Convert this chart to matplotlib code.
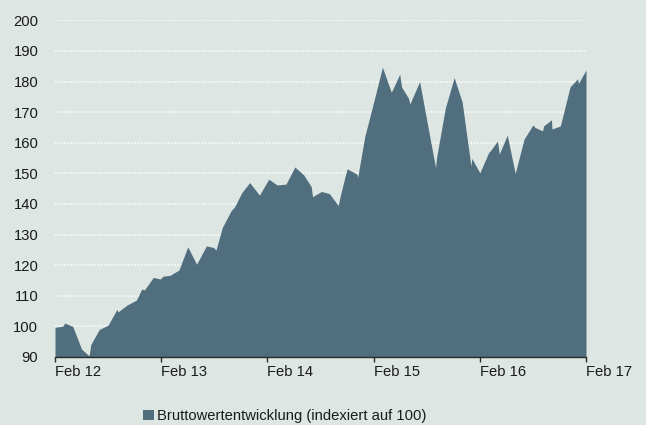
import matplotlib
matplotlib.use("Agg")
import matplotlib.pyplot as plt
from matplotlib import font_manager

# -------------------------------------------------------
# Data (months since Feb 2012, index values)
# -------------------------------------------------------
months = [0, 0.9, 1.1, 2.0, 3.0, 3.85, 4.05, 5.0, 6.0, 7.0, 7.1, 8.1, 9.2, 9.8,
          10.1, 11.1, 11.9, 12.2, 13.0, 14.0, 15.0, 16.0, 17.1, 17.9, 18.2,
          18.9, 19.9, 20.3, 21.1, 22.0, 23.1, 24.15, 25.1, 26.1, 27.1, 28.1,
          28.95, 29.1, 30.1, 31.0, 32.0, 32.25, 33.0, 34.1, 34.2, 35.0, 36.2,
          37.0, 38.0, 38.95, 39.15, 39.95, 40.1, 41.2, 42.1, 43.0, 43.1, 44.1,
          45.1, 46.0, 47.0, 47.1, 48.0, 49.0, 49.25, 50.0, 50.2, 51.1, 52.0,
          53.0, 54.0, 54.25, 55.1, 55.2, 56.1, 56.15, 57.1, 58.2, 59.05,
          59.15, 60.0]
values = [99.7, 100.1, 101.1, 100.0, 92.6, 90.4, 94.1, 99.0, 100.4, 105.6,
          104.7, 106.9, 108.6, 112.2, 111.9, 116.0, 115.5, 116.4, 116.7,
          118.4, 126.0, 120.3, 126.3, 125.8, 125.0, 132.3, 137.8, 139.1,
          143.7, 147.0, 142.9, 148.1, 146.2, 146.5, 152.1, 149.5, 145.7,
          142.4, 144.1, 143.4, 139.5, 142.9, 151.5, 149.8, 148.7, 162.0,
          175.5, 184.7, 176.5, 182.4, 178.3, 174.5, 172.7, 180.0, 165.8,
          151.9, 154.9, 171.3, 181.3, 173.4, 152.4, 154.9, 150.2, 156.8,
          157.6, 160.6, 156.3, 162.5, 150.0, 161.2, 165.8, 165.0, 163.9,
          165.5, 167.5, 164.5, 165.5, 178.3, 180.9, 179.4, 183.8]

x_ticks = [0, 12, 24, 36, 48, 60]
x_labels = ["Feb 12", "Feb 13", "Feb 14", "Feb 15", "Feb 16", "Feb 17"]
y_ticks = list(range(90, 201, 10))
series_label = "Bruttowertentwicklung (indexiert auf 100)"

BG = "#dde6e2"
FILL = "#506e7e"

# narrow font if we have it, otherwise regular Liberation Sans
names = {f.name for f in font_manager.fontManager.ttflist}
if "Liberation Sans Narrow" in names:
    fam, fs = "Liberation Sans Narrow", 12.7
else:
    fam, fs = "Liberation Sans", 10.6
plt.rcParams["font.family"] = [fam, "DejaVu Sans"]

fig = plt.figure(figsize=(6.46, 4.25), dpi=100, facecolor=BG)
ax = fig.add_axes([55 / 646, 1 - 357 / 425, 531 / 646, (357 - 20.4) / 425])
ax.set_facecolor(BG)

ax.fill_between(months, values, 90, color=FILL, linewidth=0, label=series_label, zorder=2)

ax.set_xlim(0, 60)
ax.set_ylim(90, 200)
ax.set_yticks(y_ticks)
ax.set_xticks(x_ticks)
ax.set_xticklabels(x_labels, ha="left")

ax.yaxis.grid(True, color="white", linestyle=(0, (1, 1)), linewidth=1.1, zorder=1)
ax.set_axisbelow(True)

for s in ["left", "right", "top"]:
    ax.spines[s].set_visible(False)
ax.spines["bottom"].set_color("#2b2b2b")
ax.spines["bottom"].set_linewidth(1.0)
ax.spines["bottom"].set_zorder(3)

ax.tick_params(axis="y", length=0, pad=12, labelsize=fs, labelcolor="#1a1a1a")
ax.tick_params(axis="x", length=3.5, width=1.0, color="#2b2b2b", pad=2,
               labelsize=fs, labelcolor="#1a1a1a")

leg = fig.legend(loc="center left", bbox_to_anchor=(143 / 646, 1 - 416 / 425),
                 frameon=False, fontsize=fs, handlelength=0.72, handleheight=0.72,
                 handletextpad=0.2, borderpad=0, borderaxespad=0)
for t in leg.get_texts():
    t.set_color("#1a1a1a")

plt.savefig("out.png", dpi=100, facecolor=BG)
plt.close()
